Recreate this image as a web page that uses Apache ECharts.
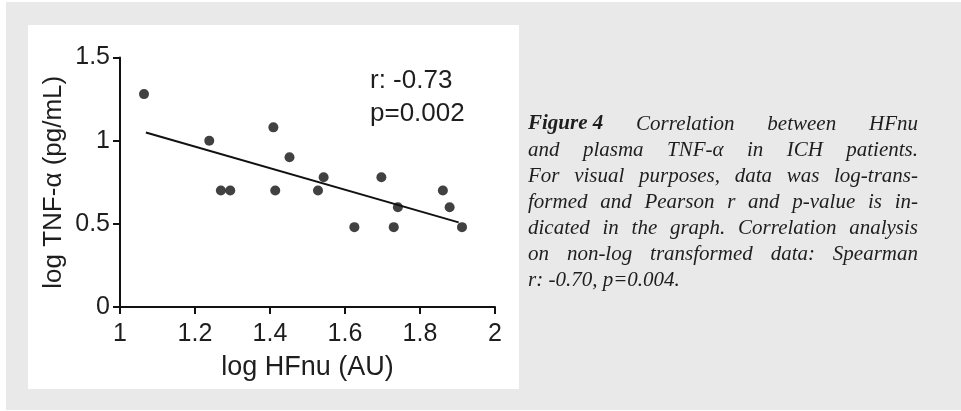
<!DOCTYPE html>
<html>
<head>
<meta charset="utf-8">
<script src="https://cdn.jsdelivr.net/npm/echarts@6/dist/echarts.min.js"></script>
<style>
html,body{margin:0;padding:0;background:#ffffff;}
#chart{width:961px;height:411px;}
</style>
</head>
<body>
<div id="chart"></div>
<script>
// ---- data ----
const hfnu = [1.064,1.238,1.269,1.294,1.409,1.414,1.452,1.528,1.543,1.625,1.697,1.730,1.741,1.861,1.879,1.912];
const tnf  = [1.28,1.00,0.70,0.70,1.08,0.70,0.90,0.70,0.78,0.48,0.78,0.48,0.60,0.70,0.60,0.48];
const fitX = [1.069, 1.903];
const fitY = [1.049, 0.509];
const xTitle = 'log HFnu (AU)';
const yTitle = 'log TNF-α (pg/mL)';
const statLines = ['r: -0.73', 'p=0.002'];
const captionLines = [
  [{t:'Figure 4', b:true}, 'Correlation', 'between', 'HFnu'],
  'and plasma TNF-α in ICH patients.',
  'For visual purposes, data was log-trans-',
  'formed and Pearson r and p-value is in-',
  'dicated in the graph. Correlation analysis',
  'on non-log transformed data: Spearman',
  'r: -0.70, p=0.004.'
];

const chart = echarts.init(document.getElementById('chart'), null, {renderer:'canvas'});
const sans = '"Liberation Sans", Arial, sans-serif';
const serif = '"Liberation Serif", "Times New Roman", serif';
const ink = '#1e1e1e';

// caption layout (justified) using text measurement
const ctx = document.createElement('canvas').getContext('2d');
const capX = 528, capW = 390, capTop = 124, capLH = 26, capSize = 21;
const capGraphics = [];
captionLines.forEach((line, i) => {
  let tokens = Array.isArray(line) ? line : line.split(' ');
  tokens = tokens.map(t => typeof t === 'string' ? {t:t, b:false} : t);
  const fonts = tokens.map(tk => (tk.b ? 'italic bold ' : 'italic ') + capSize + 'px ' + serif);
  const widths = tokens.map((tk, k) => { ctx.font = fonts[k]; return ctx.measureText(tk.t).width; });
  const total = widths.reduce((a,b)=>a+b,0);
  const last = i === captionLines.length - 1;
  ctx.font = 'italic ' + capSize + 'px ' + serif;
  const gap = last ? ctx.measureText(' ').width : (capW - total) / (tokens.length - 1);
  let x = capX;
  const y = capTop + i * capLH;
  tokens.forEach((tk, k) => {
    capGraphics.push({
      type:'text', x:x, y:y,
      style:{text:tk.t, font:fonts[k], fill:ink, verticalAlign:'middle'}
    });
    x += widths[k] + gap;
  });
});

const option = {
  animation:false,
  graphic:[
    {type:'rect', shape:{x:6, y:2, width:955, height:408}, style:{fill:'#e8e9e8'}, z:-10},
    {type:'rect', shape:{x:28, y:25, width:491, height:364}, style:{fill:'#ffffff'}, z:-9},
    {type:'text', x:370, y:81, style:{text:statLines[0], font:'26px ' + sans, fill:ink, verticalAlign:'middle'}},
    {type:'text', x:370, y:114, style:{text:statLines[1], font:'26px ' + sans, fill:ink, verticalAlign:'middle'}}
  ].concat(capGraphics),
  grid:{left:120, right:466, top:57.5, bottom:104, containLabel:false},
  xAxis:{
    type:'value', min:1, max:2, interval:0.2,
    name:xTitle, nameLocation:'middle', nameGap:47,
    nameTextStyle:{fontFamily:sans, fontSize:27, color:ink},
    axisLine:{lineStyle:{color:'#111', width:2}},
    axisTick:{show:true, length:7, lineStyle:{color:'#111', width:2}},
    axisLabel:{fontFamily:sans, fontSize:25, color:ink, margin:15},
    splitLine:{show:false}
  },
  yAxis:{
    type:'value', min:0, max:1.5, interval:0.5,
    name:yTitle, nameLocation:'middle', nameGap:53, nameRotate:90,
    nameTextStyle:{fontFamily:sans, fontSize:26, color:ink},
    axisLine:{show:true, lineStyle:{color:'#111', width:2}},
    axisTick:{show:true, length:7, lineStyle:{color:'#111', width:2}},
    axisLabel:{fontFamily:sans, fontSize:25, color:ink, margin:10},
    splitLine:{show:false}
  },
  series:[
    {type:'line', data:fitX.map((x,i)=>[x, fitY[i]]), symbol:'none',
     lineStyle:{color:'#111', width:2}, z:2},
    {type:'scatter', data:hfnu.map((x,i)=>[x, tnf[i]]), symbol:'circle', symbolSize:10,
     itemStyle:{color:'#111'}, z:3}
  ]
};
chart.setOption(option);
</script>
</body>
</html>
